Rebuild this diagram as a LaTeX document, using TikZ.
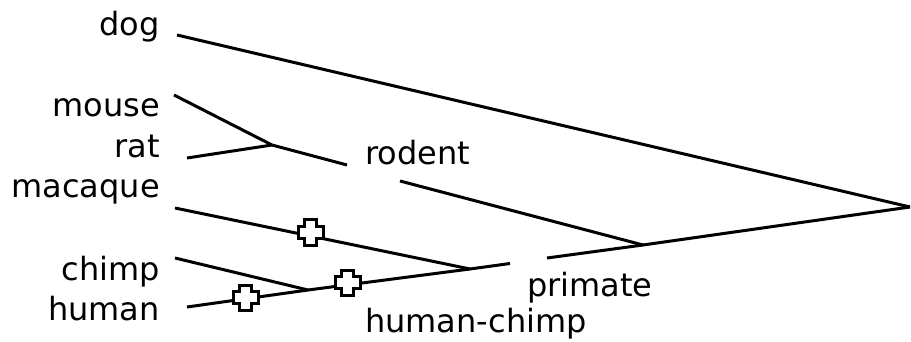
\documentclass[tikz,border=0pt]{standalone}
\usepackage{fontspec}
\setmainfont{DejaVu Sans}
\tikzset{
  lbl/.style={inner sep=0pt, font=\fontsize{32}{39}\selectfont},
  branch/.style={line width=3pt, line cap=butt, line join=miter},
  plusmark/.pic={\draw[line width=3pt, fill=white]
     (-6,-12.5) -- (6,-12.5) -- (6,-6) -- (12.5,-6) -- (12.5,6) -- (6,6) -- (6,12.5)
     -- (-6,12.5) -- (-6,6) -- (-12.5,6) -- (-12.5,-6) -- (-6,-6) -- cycle;}
}
\begin{document}
\begin{tikzpicture}[x=1pt,y=-1pt]
\useasboundingbox (0,0) rectangle (911,342);
% labels
\node[lbl, anchor=base east] (dog) at (160,36) {dog};
\node[lbl, anchor=base east] (mouse) at (160,117) {mouse};
\node[lbl, anchor=base east] (rat) at (160,158) {rat};
\node[lbl, anchor=base east] (macaque) at (160,198) {macaque};
\node[lbl, anchor=base east] (chimp) at (160,280) {chimp};
\node[lbl, anchor=base east] (human) at (160,320) {human};
\node[lbl, anchor=base west] (rodent) at (365,165) {rodent};
\node[lbl, anchor=base west] (primate) at (527,296) {primate};
\node[lbl, anchor=base west] (hc) at (365,332) {human-chimp};
% coordinates
\coordinate (dogE) at (177,35);
\coordinate (mouseE) at (174,95);
\coordinate (ratE) at (187,158);
\coordinate (macE) at (175,208);
\coordinate (chimpE) at (175,258);
\coordinate (humanE) at (187,307);
\coordinate (root) at (910,207);
\coordinate (j1) at (272,145);
\coordinate (j2) at (643,245);
\coordinate (j3) at (470,269);
\coordinate (j4) at (308,290);
\coordinate (g1a) at (347,165);
\coordinate (g1b) at (400,181);
\coordinate (g2a) at (510,263.5);
\coordinate (g2b) at (547,258);
% branches
\draw[branch] (dogE) -- (root);
\draw[branch] (mouseE) -- (j1);
\draw[branch] (ratE) -- (j1);
\draw[branch] (j1) -- (g1a);
\draw[branch] (g1b) -- (j2);
\draw[branch] (macE) -- (j3);
\draw[branch] (chimpE) -- (j4);
\draw[branch] (humanE) -- (j4) -- (j3) -- (g2a);
\draw[branch] (g2b) -- (j2) -- (root);
% markers
\pic at (310.5,232.5) {plusmark};
\pic at (245.5,297.5) {plusmark};
\pic at (347.5,282.5) {plusmark};
\end{tikzpicture}
\end{document}
